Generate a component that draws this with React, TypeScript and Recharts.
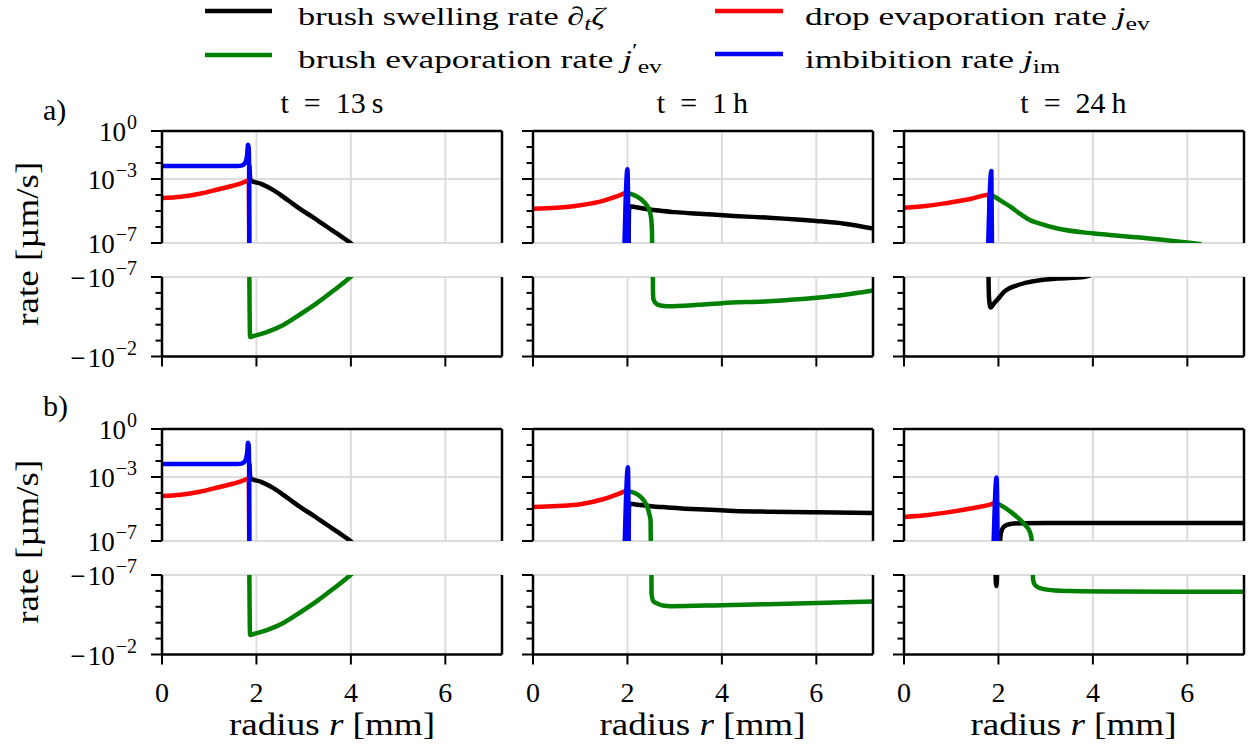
import React from "react";
import { LineChart, Line, XAxis, YAxis, CartesianGrid, ReferenceLine } from "recharts";

// [radius r in mm, rate in µm/s]; negative rates go to the lower half of each panel
type Pt = [number, number];

const SERIF = "Liberation Serif, DejaVu Serif, serif";
const COLORS = ["#000000", "#008000", "#ff0000", "#0000ff"];

const R_MAX = 7.2;
const R_TICKS = [0, 2, 4, 6];
const R_GRID = [2, 4, 6];
const POS_TICKS = [1, 1e-1, 1e-2, 1e-3, 1e-4, 1e-5, 1e-6, 1e-7];
const POS_MAJOR = [0, -3, -7];
const POS_GRID = [1e-3, 1e-7];
const NEG_TICKS = [1e-7, 1e-6, 1e-5, 1e-4, 1e-3, 1e-2];
const NEG_MAJOR = [-7, -2];
const NEG_GRID = [1e-7];
const TIMES = ["13", "1", "24"];
const UNITS = ["s", "h", "h"];
const ROW_TAGS = ["a)", "b)"];

// t = 13 s (same in a and b)
const swell13s: Pt[] = [
  [1.85, 7e-3], [1.875, 8.3e-4], [2.1, 5e-4], [2.36, 2e-4], [2.65, 5.1e-5],
  [2.93, 1.3e-5], [3.2, 4e-6], [3.5, 1e-6], [3.75, 3.2e-7], [3.99, 1e-7], [4.1, 5e-8],
];
const brushEv13s: Pt[] = [
  [1.845, -1e-9], [1.855, -1e-5], [1.865, -5.9e-4], [1.95, -5e-4], [2.22, -2.9e-4],
  [2.58, -1e-4], [2.93, -2.2e-5], [3.28, -4.4e-6], [3.64, -6.9e-7], [3.99, -1e-7], [4.1, -5e-8],
];
const dropEv13s: Pt[] = [
  [0, 6.5e-5], [0.4, 7.8e-5], [0.8, 1.2e-4], [1.2, 2.3e-4], [1.5, 3.8e-4],
  [1.7, 5.8e-4], [1.8, 7.6e-4], [1.84, 8.2e-4], [1.85, 1e-9],
];
const imbib13s: Pt[] = [
  [0, 6.5e-3], [1.0, 6.5e-3], [1.6, 6.5e-3], [1.68, 6.9e-3], [1.74, 8.5e-3],
  [1.78, 1.4e-2], [1.805, 3.5e-2], [1.82, 0.14], [1.835, 0.1], [1.845, 5e-3], [1.85, 1e-9],
];

// t = 1 h, a
const swell1hA: Pt[] = [
  [2.02, 1e-9], [2.035, 1.2e-5], [2.06, 1.9e-5], [2.15, 1.8e-5], [2.3, 1.5e-5],
  [2.6, 1.1e-5], [3.0, 8.5e-6], [3.6, 6.5e-6], [4.25, 4.9e-6], [5.0, 3.8e-6],
  [6.0, 2.4e-6], [6.6, 1.6e-6], [7.2, 8e-7],
];
const brushEv1hA: Pt[] = [
  [1.99, 1.3e-4], [2.1, 1.1e-4], [2.2, 8e-5], [2.3, 5e-5], [2.4, 2.5e-5],
  [2.46, 1.2e-5], [2.5, 4e-6], [2.52, 5e-7], [2.53, 1e-9],
  [2.535, -1e-9], [2.54, -7e-7], [2.55, -2.5e-6], [2.6, -4.5e-6], [2.7, -6.2e-6],
  [2.85, -6.9e-6], [3.5, -5.6e-6], [4.0, -4.4e-6], [5.0, -3.3e-6], [6.0, -2e-6],
  [6.6, -1.3e-6], [7.2, -7e-7],
];
const dropEv1hA: Pt[] = [
  [0, 1.4e-5], [0.5, 1.6e-5], [1.0, 2.3e-5], [1.5, 4.5e-5], [1.8, 8.7e-5],
  [1.97, 1.35e-4], [1.98, 1e-9],
];
const imbib1hA: Pt[] = [[1.93, 1e-8], [2.0, 4.1e-3], [2.025, 1e-8]];

// t = 24 h, a
const swell24hA: Pt[] = [
  [1.78, -1e-9], [1.8, -2e-6], [1.835, -8.3e-6], [1.9, -4.8e-6], [1.98, -2.6e-6],
  [2.12, -8.7e-7], [2.4, -3.3e-7], [2.68, -2e-7], [3.25, -1.26e-7], [3.81, -1e-7], [3.95, -8e-8],
];
const brushEv24hA: Pt[] = [
  [1.84, 1.05e-4], [2.05, 4.5e-5], [2.26, 1.8e-5], [2.47, 6.3e-6], [2.68, 2.6e-6],
  [2.83, 1.8e-6], [3.25, 8e-7], [4.03, 3.9e-7], [5.0, 2.2e-7], [6.0, 1.07e-7], [6.3, 8.5e-8],
];
const dropEv24hA: Pt[] = [
  [0, 1.6e-5], [0.5, 2.1e-5], [0.92, 3.2e-5], [1.4, 5.6e-5], [1.8, 1.05e-4], [1.83, 1e-9],
];
const imbib24hA: Pt[] = [[1.775, 1e-8], [1.85, 3.2e-3], [1.865, 1e-8]];

// t = 1 h, b
const swell1hB: Pt[] = [
  [2.02, 1e-9], [2.035, 1.5e-5], [2.06, 2.1e-5], [2.14, 2e-5], [2.5, 1.5e-5],
  [2.85, 1.26e-5], [3.5, 9.5e-6], [4.26, 7.6e-6], [5.0, 6.8e-6], [6.0, 6.3e-6], [7.2, 5.7e-6],
];
const brushEv1hB: Pt[] = [
  [2.0, 1.3e-4], [2.1, 1.15e-4], [2.2, 8.5e-5], [2.28, 5.7e-5], [2.36, 3e-5],
  [2.42, 1.35e-5], [2.47, 4e-6], [2.49, 2e-6], [2.5, 1e-9],
  [2.505, -1e-9], [2.51, -1.5e-6], [2.55, -4.5e-6], [2.64, -6.3e-6], [2.75, -8.3e-6],
  [2.92, -9.1e-6], [4.0, -7.9e-6], [4.97, -6.9e-6], [6.0, -5.8e-6], [7.2, -4.6e-6],
];
const dropEv1hB: Pt[] = [
  [0, 1.35e-5], [0.5, 1.55e-5], [1.0, 2.0e-5], [1.5, 4.2e-5], [1.8, 8.5e-5],
  [1.98, 1.32e-4], [1.99, 1e-9],
];
const imbib1hB: Pt[] = [[1.935, 1e-8], [2.01, 4e-3], [2.03, 1e-8]];

// t = 24 h, b
const swell24hB: Pt[] = [
  [1.93, -1e-9], [1.945, -3e-7], [1.955, -5e-7], [1.965, -3e-7], [1.98, -1e-9],
  [2.025, 1e-9], [2.035, 1e-7], [2.06, 4e-7], [2.12, 8e-7], [2.25, 1.15e-6],
  [2.5, 1.3e-6], [3.0, 1.35e-6], [5.0, 1.35e-6], [7.2, 1.35e-6],
];
const brushEv24hB: Pt[] = [
  [1.96, 2.4e-5], [2.1, 1.4e-5], [2.26, 6.6e-6], [2.47, 2e-6], [2.58, 9e-7],
  [2.65, 4.7e-7], [2.7, 1.5e-7], [2.72, 1e-9],
  [2.725, -1e-9], [2.73, -1.5e-7], [2.75, -3.2e-7], [2.8, -5e-7], [2.9, -7e-7],
  [3.2, -9.5e-7], [3.53, -1.02e-6], [4.5, -1.1e-6], [6.0, -1.12e-6], [7.2, -1.12e-6],
];
const dropEv24hB: Pt[] = [
  [0, 3.2e-6], [0.5, 4.2e-6], [0.99, 6.6e-6], [1.5, 1.2e-5], [1.8, 1.8e-5],
  [1.94, 2.4e-5], [1.95, 1e-9],
];
const imbib24hB: Pt[] = [[1.89, 1e-8], [1.96, 9.3e-4], [1.985, 1e-8]];

// rows a/b x columns 13 s / 1 h / 24 h; series order: swelling, brush ev, drop ev, imbibition
const PANELS: Pt[][][][] = [
  [
    [swell13s, brushEv13s, dropEv13s, imbib13s],
    [swell1hA, brushEv1hA, dropEv1hA, imbib1hA],
    [swell24hA, brushEv24hA, dropEv24hA, imbib24hA],
  ],
  [
    [swell13s, brushEv13s, dropEv13s, imbib13s],
    [swell1hB, brushEv1hB, dropEv1hB, imbib1hB],
    [swell24hB, brushEv24hB, dropEv24hB, imbib24hB],
  ],
];

// layout
const COL_X = [162, 532.5, 903.5];
const PLOT_W = 340;
const ROW_Y = [131, 429];
const UP_H = 112;
const GAP = 34;
const LOW_H = 79.5;
const AXIS_W = 160;
const SPINE = 2.5;

function RateTick(props: any) {
  const { x, y, payload, major, label, negative } = props;
  const exp = Math.round(Math.log10(payload.value));
  const isMajor = major.includes(exp);
  return (
    <g>
      <line x1={x - (isMajor ? 11 : 6.5)} x2={x} y1={y} y2={y} stroke="#000" strokeWidth={2} />
      {label && isMajor && (
        <text x={x - 25} y={y + 10} textAnchor="end" style={{ fontFamily: SERIF }} fontSize={27} fill="#000">
          {negative ? "\u2212\u200a" : ""}10
          <tspan dy={-12} dx={1} fontSize={20}>{exp < 0 ? `\u2212${-exp}` : `${exp}`}</tspan>
        </text>
      )}
    </g>
  );
}

function RadiusTick(props: any) {
  const { x, y, payload, label } = props;
  return (
    <g>
      <line x1={x} x2={x} y1={y} y2={y + 10} stroke="#000" strokeWidth={2} />
      {label && (
        <text x={x} y={y + 47} textAnchor="middle" style={{ fontFamily: SERIF }} fontSize={28} fill="#000">
          {payload.value}
        </text>
      )}
    </g>
  );
}

function Half({ left, top, series, upper, firstCol, lastRow }: any) {
  const plotH = upper ? UP_H : LOW_H;
  const mTop = upper ? 24 : 28;
  const mBottom = upper ? 18 : 6;
  const xH = upper ? 0 : lastRow ? 64 : 14;
  const w = AXIS_W + PLOT_W + 12;
  const h = mTop + plotH + xH + mBottom;
  const major = upper ? POS_MAJOR : NEG_MAJOR;
  return (
    <div style={{ position: "absolute", left: left - AXIS_W, top: top - mTop }}>
      <LineChart width={w} height={h} margin={{ top: mTop, right: 12, bottom: mBottom, left: 0 }}>
        <CartesianGrid
          stroke="#dcdcdc"
          strokeWidth={2}
          verticalValues={R_GRID}
          horizontalValues={upper ? POS_GRID : NEG_GRID}
        />
        <XAxis
          type="number"
          dataKey="r"
          domain={[0, R_MAX]}
          allowDataOverflow
          ticks={R_TICKS}
          interval={0}
          hide={upper}
          height={xH}
          tickSize={0}
          tickMargin={0}
          tickLine={false}
          axisLine={{ stroke: "#000", strokeWidth: SPINE }}
          tick={(p: any) => <RadiusTick {...p} label={lastRow} />}
        />
        <YAxis
          type="number"
          scale="log"
          domain={upper ? [1e-7, 1] : [1e-7, 1e-2]}
          allowDataOverflow
          reversed={!upper}
          ticks={upper ? POS_TICKS : NEG_TICKS}
          interval={0}
          width={AXIS_W}
          tickSize={0}
          tickMargin={0}
          tickLine={false}
          axisLine={{ stroke: "#000", strokeWidth: SPINE }}
          tick={(p: any) => <RateTick {...p} major={major} label={firstCol} negative={!upper} />}
        />
        {series.map((pts: Pt[], i: number) => (
          <Line
            key={i}
            data={pts.map(([r, v]) => ({ r, v: upper ? (v > 0 ? v : null) : v < 0 ? -v : null }))}
            dataKey="v"
            type="monotoneX"
            stroke={COLORS[i]}
            strokeWidth={4.5}
            strokeLinejoin="round"
            dot={false}
            activeDot={false}
            isAnimationActive={false}
          />
        ))}
        {upper && <ReferenceLine y={1} stroke="#000" strokeWidth={SPINE} />}
        <ReferenceLine x={R_MAX} stroke="#000" strokeWidth={SPINE} />
      </LineChart>
    </div>
  );
}

function Overlay() {
  const t = { style: { fontFamily: SERIF }, fill: "#000" };
  return (
    <svg width={1255} height={750} style={{ position: "absolute", left: 0, top: 0, pointerEvents: "none" }}>
      {/* legend */}
      <line x1={205} x2={272} y1={11} y2={11} stroke={COLORS[0]} strokeWidth={4.5} />
      <text x={298} y={25} fontSize={26} textLength={307} lengthAdjust="spacingAndGlyphs" {...t}>
        brush swelling rate <tspan fontStyle="italic">∂</tspan>
        <tspan fontStyle="italic" fontSize={19} dy={5}>t</tspan>
        <tspan fontStyle="italic" dy={-5}>ζ</tspan>
      </text>
      <line x1={205} x2={272} y1={55} y2={55} stroke={COLORS[1]} strokeWidth={4.5} />
      <text x={298} y={68} fontSize={26} textLength={364} lengthAdjust="spacingAndGlyphs" {...t}>
        brush evaporation rate <tspan fontStyle="italic">j</tspan>
        <tspan fontSize={19} dy={-11}>′</tspan>
        <tspan fontSize={19} dy={16}>ev</tspan>
      </text>
      <line x1={715} x2={783} y1={11} y2={11} stroke={COLORS[2]} strokeWidth={4.5} />
      <text x={805} y={25} fontSize={26} textLength={345} lengthAdjust="spacingAndGlyphs" {...t}>
        drop evaporation rate <tspan fontStyle="italic">j</tspan>
        <tspan fontSize={19} dy={5}>ev</tspan>
      </text>
      <line x1={715} x2={783} y1={54} y2={54} stroke={COLORS[3]} strokeWidth={4.5} />
      <text x={805} y={68} fontSize={26} textLength={255} lengthAdjust="spacingAndGlyphs" {...t}>
        imbibition rate <tspan fontStyle="italic">j</tspan>
        <tspan fontSize={19} dy={5}>im</tspan>
      </text>

      {/* column titles */}
      {TIMES.map((v, c) => (
        <text key={v} x={COL_X[c] + PLOT_W / 2} y={113} textAnchor="middle" fontSize={30} {...t}>
          {`t\u2002=\u2002${v}\u2009${UNITS[c]}`}
        </text>
      ))}

      {/* row tags and y labels */}
      {ROW_TAGS.map((tag, r) => {
        const cy = ROW_Y[r] + (UP_H + GAP + LOW_H) / 2;
        return (
          <g key={tag}>
            <text x={43} y={r === 0 ? 120 : 416} fontSize={30} {...t}>{tag}</text>
            <text
              transform={`translate(38, ${cy}) rotate(-90)`}
              textAnchor="middle"
              fontSize={31}
              textLength={164}
              lengthAdjust="spacingAndGlyphs"
              {...t}
            >
              rate [µm/s]
            </text>
          </g>
        );
      })}

      {/* x labels */}
      {COL_X.map((x) => (
        <text
          key={x}
          x={x + PLOT_W / 2}
          y={735}
          textAnchor="middle"
          fontSize={31}
          textLength={206}
          lengthAdjust="spacingAndGlyphs"
          {...t}
        >
          radius <tspan fontStyle="italic">r</tspan> [mm]
        </text>
      ))}
    </svg>
  );
}

export default function App() {
  return (
    <div style={{ position: "absolute", left: 0, top: 0, width: 1255, height: 750, background: "#fff" }}>
      {PANELS.map((row, r) =>
        row.map((series, c) => (
          <React.Fragment key={`${r}-${c}`}>
            <Half left={COL_X[c]} top={ROW_Y[r]} series={series} upper firstCol={c === 0} lastRow={r === 1} />
            <Half
              left={COL_X[c]}
              top={ROW_Y[r] + UP_H + GAP}
              series={series}
              upper={false}
              firstCol={c === 0}
              lastRow={r === 1}
            />
          </React.Fragment>
        ))
      )}
      <Overlay />
    </div>
  );
}
